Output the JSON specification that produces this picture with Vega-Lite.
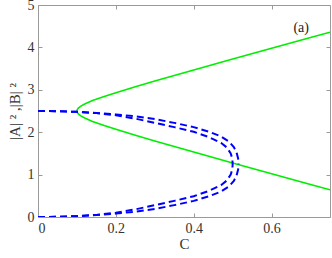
{
  "$schema": "https://vega.github.io/schema/vega-lite/v6.json",
  "width": 292,
  "height": 212,
  "autosize": "none",
  "padding": {"left": 38, "top": 5, "right": 2, "bottom": 41},
  "config": {
    "view": {"stroke": "#9a9a9a", "strokeWidth": 1},
    "font": "Times New Roman",
    "axis": {
      "grid": false,
      "domain": false,
      "tickColor": "#9a9a9a",
      "tickSize": -4,
      "labelFont": "Times New Roman",
      "labelFontSize": 14,
      "labelColor": "#333333",
      "labelPadding": 8,
      "titleFont": "Times New Roman",
      "titleFontWeight": "normal",
      "titleFontSize": 15,
      "titleColor": "#333333"
    }
  },
  "datasets": {
    "curves": [
      {"s": "g_up", "C": 0.1, "y": 2.5},
      {"s": "g_up", "C": 0.101, "y": 2.535},
      {"s": "g_up", "C": 0.103, "y": 2.562},
      {"s": "g_up", "C": 0.106, "y": 2.588},
      {"s": "g_up", "C": 0.11, "y": 2.615},
      {"s": "g_up", "C": 0.12, "y": 2.666},
      {"s": "g_up", "C": 0.14, "y": 2.745},
      {"s": "g_up", "C": 0.17, "y": 2.844},
      {"s": "g_up", "C": 0.2, "y": 2.933},
      {"s": "g_up", "C": 0.25, "y": 3.073},
      {"s": "g_up", "C": 0.3, "y": 3.207},
      {"s": "g_up", "C": 0.4, "y": 3.468},
      {"s": "g_up", "C": 0.5, "y": 3.725},
      {"s": "g_up", "C": 0.6, "y": 3.979},
      {"s": "g_up", "C": 0.7, "y": 4.232},
      {"s": "g_up", "C": 0.75, "y": 4.358},
      {"s": "g_lo", "C": 0.1, "y": 2.5},
      {"s": "g_lo", "C": 0.101, "y": 2.465},
      {"s": "g_lo", "C": 0.103, "y": 2.438},
      {"s": "g_lo", "C": 0.106, "y": 2.412},
      {"s": "g_lo", "C": 0.11, "y": 2.385},
      {"s": "g_lo", "C": 0.12, "y": 2.334},
      {"s": "g_lo", "C": 0.14, "y": 2.255},
      {"s": "g_lo", "C": 0.17, "y": 2.156},
      {"s": "g_lo", "C": 0.2, "y": 2.067},
      {"s": "g_lo", "C": 0.25, "y": 1.927},
      {"s": "g_lo", "C": 0.3, "y": 1.793},
      {"s": "g_lo", "C": 0.4, "y": 1.532},
      {"s": "g_lo", "C": 0.5, "y": 1.275},
      {"s": "g_lo", "C": 0.6, "y": 1.021},
      {"s": "g_lo", "C": 0.7, "y": 0.768},
      {"s": "g_lo", "C": 0.75, "y": 0.642},
      {"s": "o_top", "C": 0, "y": 2.5},
      {"s": "o_top", "C": 0.05, "y": 2.495},
      {"s": "o_top", "C": 0.1, "y": 2.48},
      {"s": "o_top", "C": 0.15, "y": 2.455},
      {"s": "o_top", "C": 0.2, "y": 2.42},
      {"s": "o_top", "C": 0.25, "y": 2.375},
      {"s": "o_top", "C": 0.3, "y": 2.31},
      {"s": "o_top", "C": 0.35, "y": 2.22},
      {"s": "o_top", "C": 0.4, "y": 2.12},
      {"s": "o_top", "C": 0.44, "y": 2.01},
      {"s": "o_top", "C": 0.47, "y": 1.9},
      {"s": "o_top", "C": 0.49, "y": 1.78},
      {"s": "o_top", "C": 0.503, "y": 1.65},
      {"s": "o_top", "C": 0.51, "y": 1.52},
      {"s": "o_top", "C": 0.514, "y": 1.38},
      {"s": "o_top", "C": 0.515, "y": 1.25},
      {"s": "o_bot", "C": 0.515, "y": 1.25},
      {"s": "o_bot", "C": 0.514, "y": 1.12},
      {"s": "o_bot", "C": 0.51, "y": 0.98},
      {"s": "o_bot", "C": 0.503, "y": 0.85},
      {"s": "o_bot", "C": 0.49, "y": 0.72},
      {"s": "o_bot", "C": 0.47, "y": 0.6},
      {"s": "o_bot", "C": 0.44, "y": 0.49},
      {"s": "o_bot", "C": 0.4, "y": 0.38},
      {"s": "o_bot", "C": 0.35, "y": 0.28},
      {"s": "o_bot", "C": 0.3, "y": 0.19},
      {"s": "o_bot", "C": 0.25, "y": 0.125},
      {"s": "o_bot", "C": 0.2, "y": 0.08},
      {"s": "o_bot", "C": 0.15, "y": 0.045},
      {"s": "o_bot", "C": 0.1, "y": 0.02},
      {"s": "o_bot", "C": 0.05, "y": 0.005},
      {"s": "o_bot", "C": 0, "y": 0},
      {"s": "i_top", "C": 0, "y": 2.5},
      {"s": "i_top", "C": 0.05, "y": 2.495},
      {"s": "i_top", "C": 0.1, "y": 2.48},
      {"s": "i_top", "C": 0.15, "y": 2.45},
      {"s": "i_top", "C": 0.2, "y": 2.4},
      {"s": "i_top", "C": 0.25, "y": 2.32},
      {"s": "i_top", "C": 0.3, "y": 2.22},
      {"s": "i_top", "C": 0.35, "y": 2.12},
      {"s": "i_top", "C": 0.4, "y": 2.01},
      {"s": "i_top", "C": 0.44, "y": 1.88},
      {"s": "i_top", "C": 0.47, "y": 1.75},
      {"s": "i_top", "C": 0.485, "y": 1.64},
      {"s": "i_top", "C": 0.495, "y": 1.5},
      {"s": "i_top", "C": 0.499, "y": 1.38},
      {"s": "i_top", "C": 0.5, "y": 1.25},
      {"s": "i_bot", "C": 0.5, "y": 1.25},
      {"s": "i_bot", "C": 0.499, "y": 1.12},
      {"s": "i_bot", "C": 0.495, "y": 1.0},
      {"s": "i_bot", "C": 0.485, "y": 0.86},
      {"s": "i_bot", "C": 0.47, "y": 0.75},
      {"s": "i_bot", "C": 0.44, "y": 0.62},
      {"s": "i_bot", "C": 0.4, "y": 0.49},
      {"s": "i_bot", "C": 0.35, "y": 0.38},
      {"s": "i_bot", "C": 0.3, "y": 0.28},
      {"s": "i_bot", "C": 0.25, "y": 0.18},
      {"s": "i_bot", "C": 0.2, "y": 0.1},
      {"s": "i_bot", "C": 0.15, "y": 0.05},
      {"s": "i_bot", "C": 0.1, "y": 0.02},
      {"s": "i_bot", "C": 0.05, "y": 0.005},
      {"s": "i_bot", "C": 0, "y": 0}
    ]
  },
  "resolve": {"axis": {"x": "independent", "y": "independent"}},
  "layer": [
    {
      "data": {"name": "curves"},
      "transform": [{"filter": "indexof(datum.s, 'g_') === 0"}],
      "mark": {"type": "line", "color": "#00ee00", "strokeWidth": 1.6, "clip": true},
      "encoding": {
        "x": {"field": "C", "type": "quantitative", "scale": {"domain": [0, 0.75], "nice": false},
          "axis": {"orient": "bottom", "values": [0, 0.2, 0.4, 0.6], "labelExpr": "datum.value === 0 ? '0' : format(datum.value, '.1f')", "title": "C", "titlePadding": 1}},
        "y": {"field": "y", "type": "quantitative", "scale": {"domain": [0, 5], "nice": false},
          "axis": {"orient": "left", "values": [0, 1, 2, 3, 4, 5], "title": "|A| ² ,|B| ²", "titlePadding": 5}},
        "detail": {"field": "s"}
      }
    },
    {
      "data": {"name": "curves"},
      "transform": [{"filter": "indexof(datum.s, 'g_') !== 0"}],
      "mark": {"type": "line", "color": "#0000ff", "strokeWidth": 2, "strokeDash": [7, 4], "clip": true},
      "encoding": {
        "x": {"field": "C", "type": "quantitative", "scale": {"domain": [0, 0.75], "nice": false},
          "axis": {"orient": "top", "values": [0, 0.2, 0.4, 0.6], "labels": false, "title": null}},
        "y": {"field": "y", "type": "quantitative", "scale": {"domain": [0, 5], "nice": false},
          "axis": {"orient": "right", "values": [0, 1, 2, 3, 4, 5], "labels": false, "title": null}},
        "detail": {"field": "s"}
      }
    },
    {
      "data": {"values": [{"C": 0.676, "y": 4.46, "label": "(a)"}]},
      "mark": {"type": "text", "font": "Times New Roman", "fontSize": 14, "color": "#222222"},
      "encoding": {
        "x": {"field": "C", "type": "quantitative", "axis": null},
        "y": {"field": "y", "type": "quantitative", "axis": null},
        "text": {"field": "label"}
      }
    }
  ]
}
